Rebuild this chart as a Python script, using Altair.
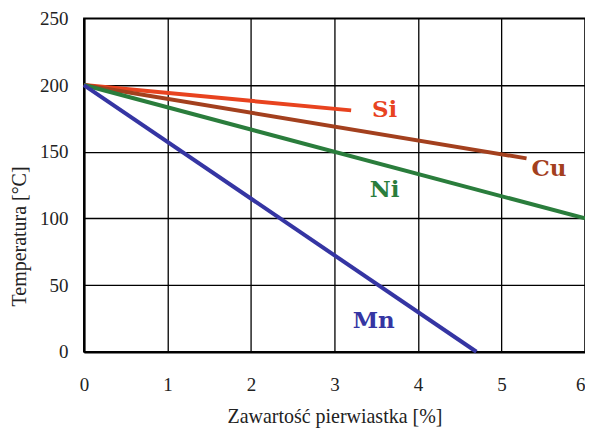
import altair as alt
import pandas as pd

elements = ["Si", "Cu", "Ni", "Mn"]
x_start = [0, 0, 0, 0]
y_start = [200, 200, 200, 200]
x_end = [3.2, 5.3, 6.0, 4.7]
y_end = [181, 145, 100, 0]
colors = ["#e8431f", "#a3401e", "#2a7d3c", "#3535a3"]
label_x = [3.6, 5.57, 3.6, 3.47]
label_y = [181, 137, 121, 23]
x_ticks = [0, 1, 2, 3, 4, 5, 6]
y_ticks = [0, 50, 100, 150, 200, 250]

AXIS_FONT = "Liberation Serif"
MARK_FONT = "DejaVu Serif"

rows = []
for e, xs, ys, xe, ye in zip(elements, x_start, y_start, x_end, y_end):
    rows.append({"el": e, "x": xs, "y": ys, "o": 0})
    rows.append({"el": e, "x": xe, "y": ye, "o": 1})
lines_df = pd.DataFrame(rows)
labels_df = pd.DataFrame({"el": elements, "x": label_x, "y": label_y})

color_scale = alt.Scale(domain=elements, range=colors)
xs = alt.Scale(domain=[0, 6], nice=False)
ys = alt.Scale(domain=[0, 250], nice=False)

x_axis = alt.Axis(values=x_ticks, format="d", title="Zawartość pierwiastka [%]",
                  ticks=False, labelPadding=24, labelFlush=False,
                  labelAlign=alt.expr("datum.value == 6 ? 'right' : 'center'"),
                  titleY=65, titleBaseline="middle")
y_axis = alt.Axis(values=y_ticks, format="d", title="Temperatura [°C]",
                  ticks=False, labelPadding=16, labelFlush=False,
                  titleX=-64, titleY=218, titleBaseline="middle", titleAlign="center")

lines = alt.Chart(lines_df).mark_line(strokeWidth=4).encode(
    x=alt.X("x:Q", scale=xs, axis=x_axis),
    y=alt.Y("y:Q", scale=ys, axis=y_axis),
    color=alt.Color("el:N", scale=color_scale, legend=None),
    detail="el:N",
    order="o:Q",
)

labels = alt.Chart(labels_df).mark_text(
    font=MARK_FONT, fontSize=23, fontWeight="bold"
).encode(
    x=alt.X("x:Q", scale=xs),
    y=alt.Y("y:Q", scale=ys),
    text="el:N",
    color=alt.Color("el:N", scale=color_scale, legend=None),
)

chart = alt.layer(lines, labels).properties(
    width=502, height=334,
    autosize=alt.AutoSizeParams(type="none"),
    padding={"left": 76, "top": 10, "right": 0, "bottom": 83},
    background="white",
).configure_view(
    stroke="black", strokeWidth=1.5
).configure_axis(
    grid=True, gridColor="black", gridWidth=1.3, gridOpacity=1,
    domainColor="black", domainWidth=2.5,
    labelFont=AXIS_FONT, labelFontSize=19, labelColor="#222",
    titleFont=AXIS_FONT, titleFontSize=20, titleFontWeight="normal", titleColor="#222",
)

chart.save("out.html", embed_options={"renderer": "svg", "actions": False})
